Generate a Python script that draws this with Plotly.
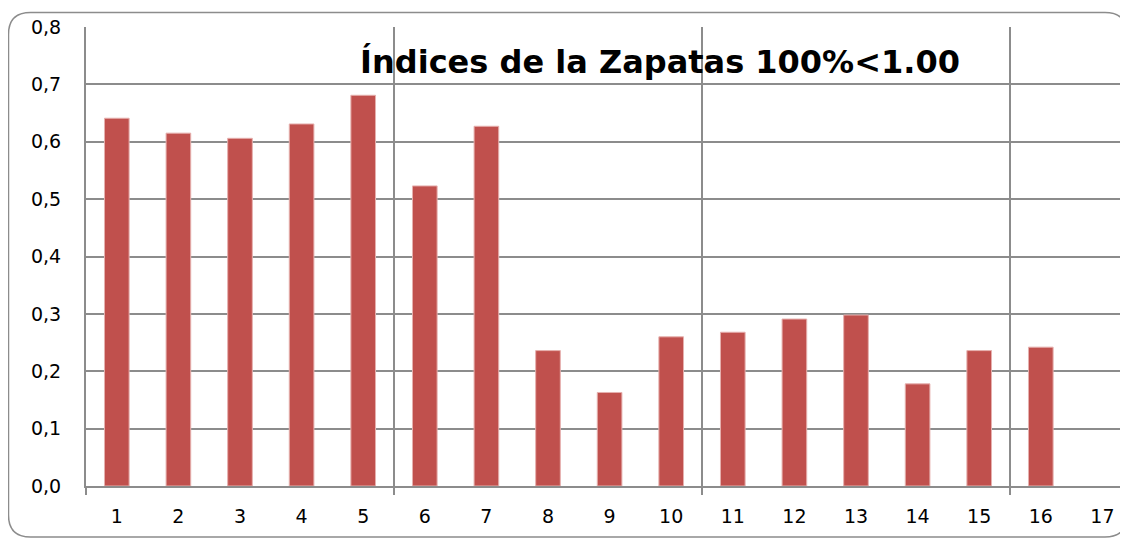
import plotly.graph_objects as go

categories = list(range(1, 18))
values = [0.641, 0.615, 0.606, 0.631, 0.681, 0.523, 0.627, 0.236, 0.163, 0.260,
          0.268, 0.291, 0.298, 0.178, 0.236, 0.242, None]
y_tickvals = [0.0, 0.1, 0.2, 0.3, 0.4, 0.5, 0.6, 0.7, 0.8]
y_ticktext = ["0,0", "0,1", "0,2", "0,3", "0,4", "0,5", "0,6", "0,7", "0,8"]
title_text = "Índices de la Zapatas 100%<1.00"

# page has an 8px body margin; figure is sized to fill the rest of the window
OFF = 8
W, H = 1128 - OFF, 538 - OFF
ML, MT, MB, MR = 86 - OFF, 27 - OFF, 538 - 486, 0

fig = go.Figure()
fig.add_trace(go.Bar(
    x=categories, y=values, width=0.4,
    marker=dict(color="#C0504D", line=dict(color="#E6B0AE", width=1)),
    hoverinfo="x+y",
))

grid = "#8c8c8c"
pw, ph = W - ML - MR, H - MT - MB
fig.update_layout(
    width=W, height=H,
    margin=dict(l=ML, r=MR, t=MT, b=MB, pad=0),
    paper_bgcolor="white", plot_bgcolor="white",
    showlegend=False,
    title=dict(text=title_text, x=(660 - 86) / pw, xref="paper",
               xanchor="center", y=1 - (62 - OFF) / H, yref="container", yanchor="middle",
               font=dict(family="DejaVu Sans", size=32, color="black", weight="bold")),
    font=dict(family="DejaVu Sans", size=19, color="black"),
    xaxis=dict(
        range=[0.5, 0.5 + pw / 61.6],
        tickmode="array", tickvals=categories, ticktext=[str(c) for c in categories],
        ticks="", showgrid=False, zeroline=False,
        showline=True, linecolor=grid, linewidth=2,
        ticklabelstandoff=12,
        tickfont=dict(family="DejaVu Sans", size=19),
        minor=dict(tick0=0.5, dtick=5, ticks="outside", ticklen=7, tickcolor=grid,
                   tickwidth=2, showgrid=True, gridcolor=grid, gridwidth=1.5),
    ),
    yaxis=dict(
        range=[0, 0.8], tickmode="array", tickvals=y_tickvals, ticktext=y_ticktext,
        showgrid=True, gridcolor=grid, gridwidth=1.5, zeroline=False,
        showline=True, linecolor=grid, linewidth=2, ticks="",
        ticklabelstandoff=19,
        tickfont=dict(family="DejaVu Sans", size=19),
    ),
)

# rounded chart frame (decoration), figure pixel -> paper coordinates
def px(x): return (x - ML) / pw
def py(y): return (H - MB - y) / ph
x0, y0, x1, y1, r = 0.5, 4.5, 1119, 529, 22
path = (f"M {px(x0 + r)},{py(y0)} L {px(x1 - r)},{py(y0)} "
        f"Q {px(x1)},{py(y0)} {px(x1)},{py(y0 + r)} L {px(x1)},{py(y1 - r)} "
        f"Q {px(x1)},{py(y1)} {px(x1 - r)},{py(y1)} L {px(x0 + r)},{py(y1)} "
        f"Q {px(x0)},{py(y1)} {px(x0)},{py(y1 - r)} L {px(x0)},{py(y0 + r)} "
        f"Q {px(x0)},{py(y0)} {px(x0 + r)},{py(y0)} Z")
fig.add_shape(type="path", path=path, xref="paper", yref="paper",
              line=dict(color="#8c8c8c", width=1.5), layer="above")

fig.write_html("out.html")
